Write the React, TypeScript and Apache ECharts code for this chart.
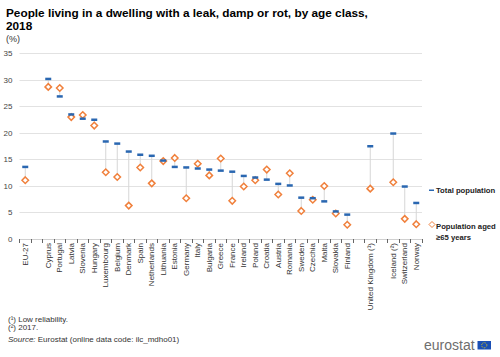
import React, { useEffect, useRef } from "react";
import * as echarts from "echarts";

const categories: string[] = [
  "EU-27", "", "Cyprus", "Portugal", "Latvia", "Slovenia", "Hungary", "Luxembourg", "Belgium",
  "Denmark", "Spain", "Netherlands", "Lithuania", "Estonia", "Germany", "Italy", "Bulgaria",
  "Greece", "France", "Ireland", "Poland", "Croatia", "Austria", "Romania", "Sweden", "Czechia",
  "Malta", "Slovakia", "Finland", " ", "United Kingdom (¹)", "  ", "Iceland (²)", "Switzerland", "Norway",
];

const totalPopulation: (number | null)[] = [
  13.6, null, 30.2, 26.9, 23.5, 22.7, 22.5, 18.4, 18.0,
  16.5, 15.9, 15.7, 14.8, 13.6, 13.5, 13.3, 13.1,
  12.9, 12.7, 11.9, 11.6, 11.2, 10.4, 10.1, 7.8, 7.7,
  7.1, 5.2, 4.6, null, 17.5, null, 19.9, 9.9, 6.8,
];

const aged65Plus: (number | null)[] = [
  11.1, null, 28.7, 28.5, 23.0, 23.4, 21.4, 12.6, 11.7,
  6.3, 13.5, 10.5, 14.7, 15.3, 7.7, 14.2, 12.0,
  15.2, 7.2, 9.9, 11.1, 13.1, 8.4, 12.4, 5.3, 7.4,
  10.0, 4.8, 2.7, null, 9.5, null, 10.7, 3.8, 2.8,
];

const yTicks = { min: 0, max: 35, interval: 5 };

const FONT = "'Liberation Sans', Arial, Helvetica, sans-serif";

export default function App() {
  const ref = useRef<HTMLDivElement>(null);

  useEffect(() => {
    if (!ref.current) return;
    const chart = echarts.init(ref.current, undefined, { renderer: "svg" });

    const connectorData: number[][] = [];
    categories.forEach((_, i) => {
      const a = totalPopulation[i];
      const b = aged65Plus[i];
      if (a != null && b != null) connectorData.push([i, a, b]);
    });

    const option: any = {
      animation: false,
      textStyle: { fontFamily: FONT },
      title: {
        text: "People living in a dwelling with a leak, damp or rot, by age class,\n2018",
        left: 6,
        top: 6,
        padding: 0,
        textStyle: { fontFamily: FONT, fontSize: 11.8, fontWeight: "bold", color: "#000", lineHeight: 13 },
      },
      grid: { left: 19.5, right: 78, top: 53.5, bottom: 118, containLabel: false },
      xAxis: {
        type: "category",
        data: categories,
        boundaryGap: true,
        axisLine: { show: true, lineStyle: { color: "#d0d0d0", width: 1 } },
        axisTick: { show: true, alignWithLabel: false, interval: 0, length: 4, lineStyle: { color: "#666" } },
        axisLabel: {
          interval: 0,
          rotate: 90,
          fontSize: 8,
          color: "#333",
          margin: 4,
          fontFamily: FONT,
        },
      },
      yAxis: {
        type: "value",
        min: yTicks.min,
        max: yTicks.max,
        interval: yTicks.interval,
        axisLine: { show: false },
        axisTick: { show: false },
        splitLine: { lineStyle: { color: "#e2e2e2", width: 1 } },
        axisLabel: { fontSize: 8, color: "#444", margin: 7, fontFamily: FONT, align: "right" },
      },
      series: [
        {
          type: "custom",
          name: "connector",
          data: connectorData,
          z: 1,
          renderItem: (params: any, api: any) => {
            const p1 = api.coord([api.value(0), api.value(1)]);
            const p2 = api.coord([api.value(0), api.value(2)]);
            return {
              type: "line",
              shape: { x1: p1[0], y1: p1[1], x2: p2[0], y2: p2[1] },
              style: { stroke: "#d6d6d6", lineWidth: 1 },
            };
          },
        },
        {
          type: "scatter",
          name: "Population aged ≥65 years",
          data: aged65Plus,
          symbol: "diamond",
          symbolSize: 6.5,
          z: 3,
          itemStyle: { color: "#ffffff", borderColor: "#f0803c", borderWidth: 1.5, opacity: 1 },
        },
        {
          type: "scatter",
          name: "Total population",
          data: totalPopulation,
          symbol: "rect",
          symbolSize: [6, 2.5],
          z: 4,
          itemStyle: { color: "#2a67b1", opacity: 1 },
        },
      ],
      graphic: [
        {
          type: "text",
          left: 6,
          top: 34,
          style: { text: "(%)", fontSize: 9, fill: "#333", fontFamily: FONT },
        },
        // legend
        { type: "rect", shape: { x: 429, y: 189.5, width: 5, height: 1.5 }, style: { fill: "#2a67b1" } },
        {
          type: "text",
          x: 436,
          y: 186,
          style: { text: "Total population", fontSize: 7.7, fontWeight: "bold", fill: "#222", fontFamily: FONT },
        },
        {
          type: "polygon",
          shape: { points: [[432, 221.5], [435, 224.5], [432, 227.5], [429, 224.5]] },
          style: { fill: "#fff", stroke: "#f0803c", lineWidth: 1 },
        },
        {
          type: "text",
          x: 436,
          y: 220.5,
          style: {
            text: "Population aged\n≥65 years",
            fontSize: 7.7,
            lineHeight: 11,
            fontWeight: "bold",
            fill: "#222",
            fontFamily: FONT,
          },
        },
        // footer
        {
          type: "text",
          x: 8,
          y: 315,
          style: { text: "(¹) Low reliability.", fontSize: 8, fill: "#333", fontFamily: FONT },
        },
        {
          type: "text",
          x: 8,
          y: 323,
          style: { text: "(²) 2017.", fontSize: 8, fill: "#333", fontFamily: FONT },
        },
        {
          type: "text",
          x: 8,
          y: 335,
          style: {
            text: "{i|Source:} Eurostat (online data code: ilc_mdho01)",
            fontSize: 8,
            fill: "#333",
            fontFamily: FONT,
            rich: { i: { fontStyle: "italic", fontSize: 8, fill: "#333", fontFamily: FONT } },
          },
        },
        // eurostat logo
        {
          type: "text",
          x: 424,
          y: 337.5,
          style: { text: "eurostat", fontSize: 14, fill: "#6e6e6e", fontFamily: FONT },
        },
        { type: "rect", shape: { x: 477.5, y: 341, width: 13.5, height: 8.5 }, style: { fill: "#1a4fb5" } },
        {
          type: "circle",
          shape: { cx: 484.25, cy: 345.25, r: 2.6 },
          style: { fill: "none", stroke: "#f5d200", lineWidth: 0.9, lineDash: [0.8, 0.8] },
        },
      ],
    };

    chart.setOption(option);
    return () => chart.dispose();
  }, []);

  return (
    <div
      ref={ref}
      style={{ position: "fixed", left: 0, top: 0, width: 500, height: 357, background: "#fff" }}
    />
  );
}
